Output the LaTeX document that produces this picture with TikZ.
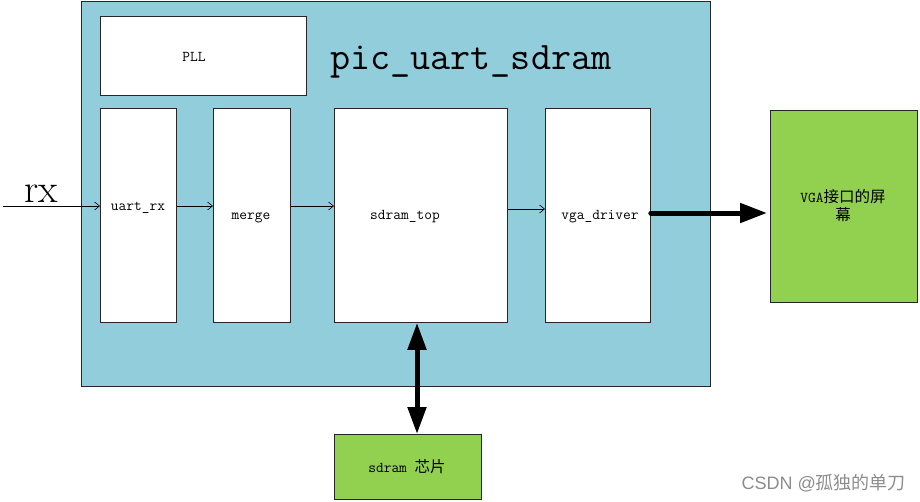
\documentclass[tikz,border=0pt]{standalone}
\usepackage{fontspec}
\newfontfamily\cjk{Noto Sans CJK SC}
\newfontfamily\wmfont{Liberation Sans}
\usetikzlibrary{arrows.meta}
\definecolor{bluebg}{HTML}{92CDDC}
\definecolor{greenbox}{HTML}{92D050}
\tikzset{
  blk/.style={draw=black!85, line width=0.8pt, rectangle, inner sep=0pt, anchor=north west},
  lbl/.style={font=\ttfamily\fontsize{15}{17}\selectfont, inner sep=0pt},
  thin arrow/.style={draw=black, line width=0.6pt, -{Straight Barb[length=5pt,width=8pt]}},
  fat arrow/.style={draw=black, line width=5pt, line cap=round, -{Triangle[length=27pt,width=19pt]}},
  fat double/.style={draw=black, line width=5pt, {Triangle[length=27pt,width=18pt]}-{Triangle[length=27pt,width=18pt]}},
}
\begin{document}
\begin{tikzpicture}[x=1pt,y=-1pt]
\useasboundingbox (0,0) rectangle (920,501);
% outer module
\node[blk, fill=bluebg, minimum width=629pt, minimum height=385pt] (top) at (81,1) {};
\node[font=\ttfamily\fontsize{39}{41}\selectfont, inner sep=0pt, anchor=west] (title) at (330,62) {pic\_uart\_sdram};
% inner blocks
\node[blk, fill=white, minimum width=206pt, minimum height=79pt] (pll) at (100,16) {};
\node[blk, fill=white, minimum width=76pt, minimum height=214pt] (uart) at (100,108) {};
\node[blk, fill=white, minimum width=77pt, minimum height=214pt] (merge) at (213,108) {};
\node[blk, fill=white, minimum width=173pt, minimum height=214pt] (sdtop) at (334,108) {};
\node[blk, fill=white, minimum width=105pt, minimum height=214pt] (vga) at (545,108) {};
% external blocks
\node[blk, fill=greenbox, minimum width=147pt, minimum height=192pt] (screen) at (770,110) {};
\node[blk, fill=greenbox, minimum width=147pt, minimum height=65pt] (chip) at (334,434) {};
% labels
\node[lbl] (tpll) at (194,57) {PLL};
\node[lbl] (tuart) at (138,208) {uart\_rx};
\node[lbl] (tmerge) at (251,218) {merge};
\node[lbl] (tsdtop) at (405,217) {sdram\_top};
\node[lbl] (tvga) at (600,217) {vga\_driver};
\node[lbl, align=center, font=\ttfamily\fontsize{15}{18}\selectfont] (tscreen) at (843,206) {VGA{\cjk\fontsize{15.5}{18}\selectfont 接口的屏}\\{\cjk\fontsize{15.5}{18}\selectfont 幕}};
\node[lbl] (tchip) at (407,467) {sdram {\cjk\fontsize{15.5}{18}\selectfont 芯片}};
\node[font=\fontsize{40}{42}\selectfont, inner sep=0pt] (trx) at (41,194) {rx};
% connectors
\coordinate (rxin) at (3,206);
\coordinate (lvl2) at (0,209);
\coordinate (lvl3) at (0,213);
\draw[thin arrow] (rxin) -- (rxin -| uart.west);
\draw[thin arrow] (uart.east |- rxin) -- (merge.west |- rxin);
\draw[thin arrow] (merge.east |- rxin) -- (sdtop.west |- rxin);
\draw[thin arrow] (sdtop.east |- lvl2) -- (vga.west |- lvl2);
\draw[fat arrow] (vga.east |- lvl3) -- ([xshift=-3pt]screen.west |- lvl3);
\draw[fat double] ([xshift=83pt]sdtop.south west) -- ([xshift=83pt]chip.north west);
% watermark
\node[font=\wmfont\fontsize{18}{20}\selectfont, text=black!45, inner sep=0pt, anchor=east] (wm) at (906,483) {CSDN @{\cjk 孤独的单刀}};
\end{tikzpicture}
\end{document}
